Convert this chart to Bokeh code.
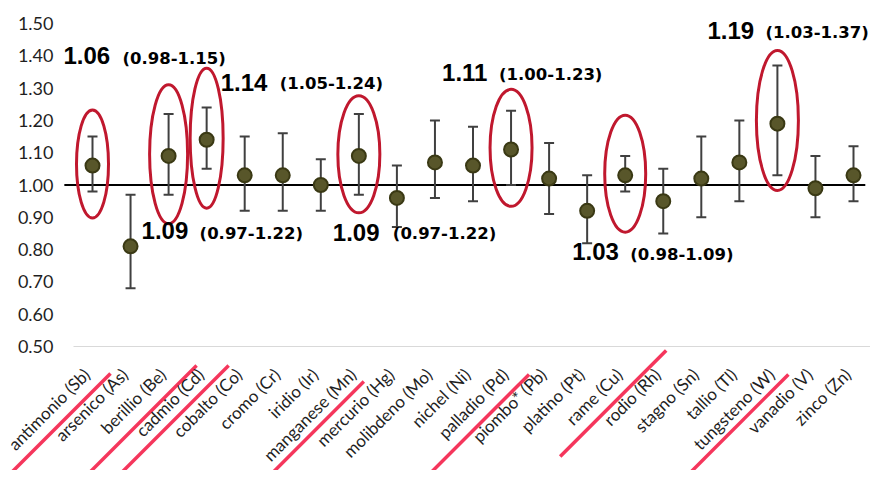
import math
from bokeh.plotting import figure
from bokeh.models import (ColumnDataSource, Whisker, TeeHead, Label, Range1d,
                          FixedTicker, NumeralTickFormatter)
from bokeh.embed import file_html
from bokeh.resources import INLINE

# ---------------- data ----------------
metals = ["antimonio (Sb)", "arsenico (As)", "berillio (Be)", "cadmio (Cd)", "cobalto (Co)",
          "cromo (Cr)", "iridio (Ir)", "manganese (Mn)", "mercurio (Hg)", "molibdeno (Mo)",
          "nichel (Ni)", "palladio (Pd)", "piombo* (Pb)", "platino (Pt)", "rame (Cu)",
          "rodio (Rh)", "stagno (Sn)", "tallio (Tl)", "tungsteno (W)", "vanadio (V)", "zinco (Zn)"]
estimate = [1.06, 0.81, 1.09, 1.14, 1.03, 1.03, 1.00, 1.09, 0.96, 1.07, 1.06,
            1.11, 1.02, 0.92, 1.03, 0.95, 1.02, 1.07, 1.19, 0.99, 1.03]
ci_low = [0.98, 0.68, 0.97, 1.05, 0.92, 0.92, 0.92, 0.97, 0.87, 0.96, 0.95,
          1.00, 0.91, 0.82, 0.98, 0.85, 0.90, 0.95, 1.03, 0.90, 0.95]
ci_high = [1.15, 0.97, 1.22, 1.24, 1.15, 1.16, 1.08, 1.22, 1.06, 1.20, 1.18,
           1.23, 1.13, 1.03, 1.09, 1.05, 1.15, 1.20, 1.37, 1.09, 1.12]
y_ticks = [0.5, 0.6, 0.7, 0.8, 0.9, 1.0, 1.1, 1.2, 1.3, 1.4, 1.5]
reference_value = 1.0
highlighted = ["antimonio (Sb)", "berillio (Be)", "cadmio (Cd)", "manganese (Mn)",
               "palladio (Pd)", "rame (Cu)", "tungsteno (W)"]

# ---------------- layout / style ----------------
W, H = 870, 470
PX_CAT = 38.05            # pixels per category
PX_VAL = 323.0            # pixels per unit of value
FIRST_X = 92              # pixel x of first category centre
TOP_PX = 23               # pixel y of top tick
LABEL_SHIFT_PX = -6       # x-label anchor shift (pixels)
ymax = y_ticks[-1] + TOP_PX / PX_VAL
ymin = ymax - H / PX_VAL
xmin = -FIRST_X / PX_CAT
xmax = xmin + W / PX_CAT

MARKER_FILL = "#58562A"
MARKER_LINE = "#3A3914"
WHISK = "#404040"
RED = "#C0182E"
PINK = "#F5365C"

# per highlighted metal (pixel offsets): ellipse w/h, big label, small label, underline top end
ann_style = {
    "antimonio (Sb)": dict(ew=32, eh=108, b=(-29, 110), s=(30, 107), u=(18, 27)),
    "berillio (Be)":  dict(ew=38, eh=139, b=(-27, -75), s=(31, -78), u=(28, 19)),
    "cadmio (Cd)":    dict(ew=33, eh=140, b=(14, 57), s=(73, 56), u=(22, 19)),
    "manganese (Mn)": dict(ew=42, eh=117, b=(-26, -77), s=(34, -78), u=(5, 35)),
    "palladio (Pd)":  dict(ew=42, eh=117, b=(-69, 77), s=(-12, 75), u=(18, 28)),
    "rame (Cu)":      dict(ew=41, eh=117, b=(-53, -76), s=(5, -79), u=(41, 4)),
    "tungsteno (W)":  dict(ew=42, eh=140, b=(-70, 93), s=(-12, 91), u=(11, 28)),
}
UNDER_LEN = 106  # px along each axis (45 degrees)

xs = list(range(len(metals)))
src = ColumnDataSource(dict(x=xs, est=estimate, lo=ci_low, hi=ci_high))

p = figure(width=W, height=H, x_range=Range1d(xmin, xmax), y_range=Range1d(ymin, ymax),
           output_backend="svg", toolbar_location=None, min_border=0)
p.outline_line_color = None
p.xgrid.visible = False
p.ygrid.visible = False

# reference line at 1.00
p.segment(x0=[xs[0] - 0.74], x1=[xs[-1] + 0.31], y0=[reference_value], y1=[reference_value],
          line_color="black", line_width=2, level="underlay")

# error bars
wh = Whisker(source=src, base="x", upper="hi", lower="lo", line_color=WHISK, line_width=2,
             upper_head=TeeHead(size=10, line_color=WHISK, line_width=2),
             lower_head=TeeHead(size=10, line_color=WHISK, line_width=2), level="underlay")
p.add_layout(wh)

p.scatter(x="x", y="est", source=src, size=14, fill_color=MARKER_FILL,
          line_color=MARKER_LINE, line_width=2)

# highlighted: ellipses, labels, underlines
ex, ey, ew, eh = [], [], [], []
ux0, uy0, ux1, uy1 = [], [], [], []
for m in highlighted:
    i = metals.index(m)
    st = ann_style[m]
    ex.append(i)
    ey.append((ci_low[i] + ci_high[i]) / 2)
    ew.append(st["ew"])
    eh.append(st["eh"])
    bx, by = st["b"]
    sx, sy = st["s"]
    p.add_layout(Label(x=i + bx / PX_CAT, y=estimate[i] + by / PX_VAL,
                       text=f"{estimate[i]:.2f}", text_font="Liberation Sans",
                       text_font_style="bold", text_font_size="24px", text_color="black",
                       text_align="left", text_baseline="middle"))
    p.add_layout(Label(x=i + sx / PX_CAT, y=estimate[i] + sy / PX_VAL,
                       text=f"({ci_low[i]:.2f}-{ci_high[i]:.2f})", text_font="DejaVu Sans",
                       text_font_style="bold", text_font_size="16.5px", text_color="black",
                       text_align="left", text_baseline="middle"))
    ux, uy = st["u"]
    x_top = i + ux / PX_CAT
    y_top = y_ticks[0] - uy / PX_VAL
    ux0.append(x_top)
    uy0.append(y_top)
    ux1.append(x_top - UNDER_LEN / PX_CAT)
    uy1.append(y_top - UNDER_LEN / PX_VAL)

esrc = ColumnDataSource(dict(x=ex, y=ey, w=ew, h=eh))
p.ellipse(x="x", y="y", width="w", height="h", width_units="screen", height_units="screen",
          source=esrc, fill_color=None, line_color=RED, line_width=3)
p.segment(x0=ux0, y0=uy0, x1=ux1, y1=uy1, line_color=PINK, line_width=3.5)

# axes (drawn at fixed locations, inside the full-canvas frame)
p.yaxis.fixed_location = xs[0] - 0.5
p.yaxis.ticker = FixedTicker(ticks=y_ticks)
p.yaxis.formatter = NumeralTickFormatter(format="0.00")
p.yaxis.axis_line_color = None
p.yaxis.major_tick_line_color = None
p.yaxis.minor_tick_line_color = None
p.yaxis.major_tick_out = 0
p.yaxis.major_tick_in = 0
p.yaxis.major_label_standoff = 20
p.yaxis.major_label_text_font = "Lato"
p.yaxis.major_label_text_font_size = "18px"
p.yaxis.major_label_text_color = "#1F1F1F"

label_pos = [x + LABEL_SHIFT_PX / PX_CAT for x in xs]
p.xaxis.fixed_location = y_ticks[0]
p.xaxis.bounds = (xs[0] - 0.5, xs[-1] + 0.5)
p.xaxis.ticker = FixedTicker(ticks=label_pos)
p.xaxis.major_label_overrides = {t: m for t, m in zip(label_pos, metals)}
p.xaxis.axis_line_color = "#D9D9D9"
p.xaxis.axis_line_width = 1
p.xaxis.major_tick_line_color = None
p.xaxis.minor_tick_line_color = None
p.xaxis.major_tick_out = 0
p.xaxis.major_tick_in = 0
p.xaxis.major_label_standoff = 25
p.xaxis.major_label_orientation = math.pi / 4
p.xaxis.major_label_text_font = "Lato"
p.xaxis.major_label_text_font_size = "17px"
p.xaxis.major_label_text_color = "#1F1F1F"

open("out.html", "w").write(file_html(p, INLINE))
